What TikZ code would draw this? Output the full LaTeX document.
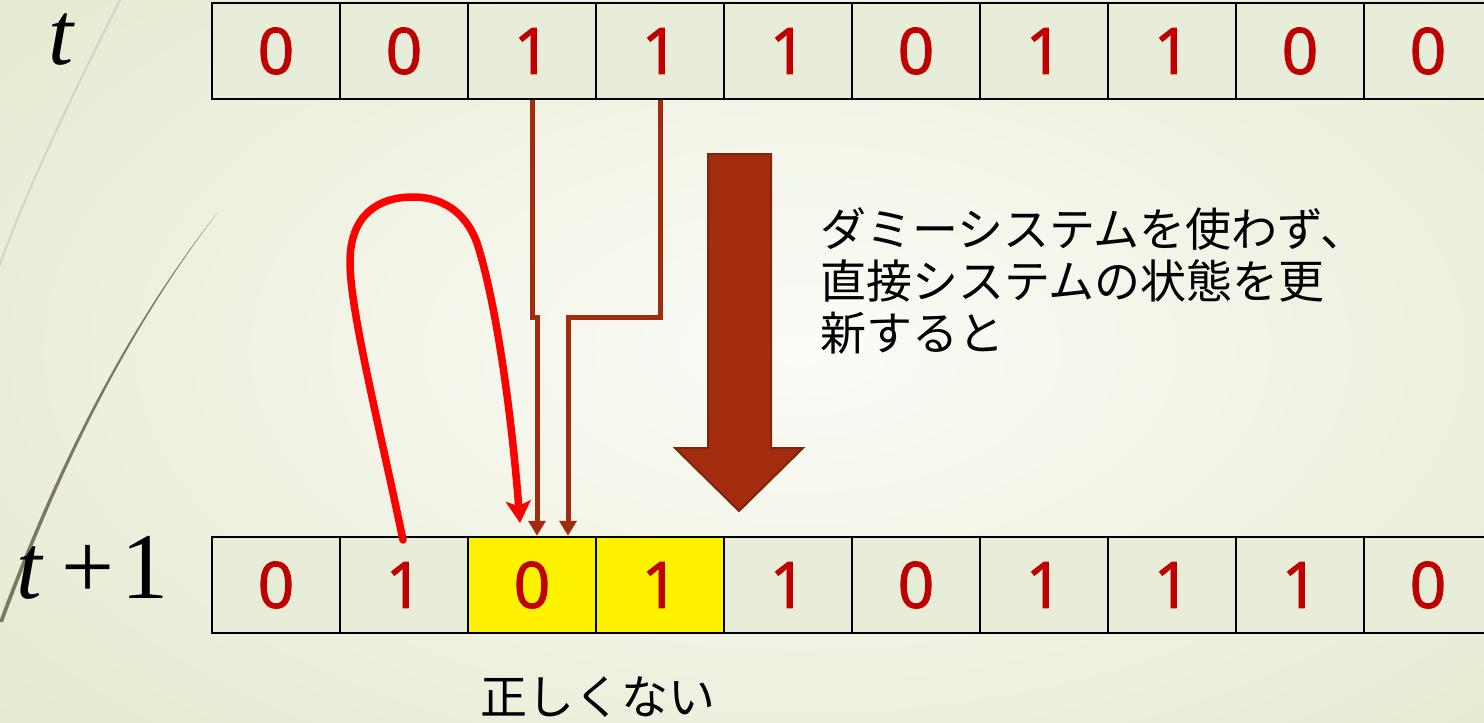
\documentclass[tikz,border=0pt]{standalone}
\usepackage{fontspec}
\setmainfont{Noto Sans}
\newfontfamily\digitfont[FakeBold=1.3]{Noto Sans}
\newfontfamily\jpfont{Noto Sans CJK JP}
\newfontfamily\tmsfont{Liberation Serif}
\usetikzlibrary{arrows.meta}
\definecolor{bgin}{HTML}{FBFCF7}
\definecolor{bgout}{HTML}{E3E9CE}
\definecolor{cellfill}{HTML}{E8EDDA}
\definecolor{digitred}{HTML}{C00000}
\definecolor{brownc}{RGB}{164,44,14}
\definecolor{browndark}{RGB}{128,36,14}
\definecolor{lightarc}{HTML}{D2D5C3}
\definecolor{darkarc}{HTML}{7D7864}
\begin{document}
\begin{tikzpicture}[x=1pt,y=-1pt,
  cell/.style={draw=black, line width=2.5pt, fill=cellfill, minimum width=128pt,
    minimum height=96pt, inner sep=0pt, text=digitred,
    font=\digitfont\fontsize{64}{70}\selectfont},
  conn/.style={draw=brownc, line width=5pt, -{Triangle[length=15pt,width=17pt]}},
  redc/.style={draw=red, line width=7.5pt, line cap=round, -{Stealth[length=22pt,width=25pt,inset=5pt]}},
  lbl/.style={inner sep=0pt, anchor=base, font=\tmsfont\fontsize{94}{100}\selectfont}
]
\useasboundingbox (0,0) rectangle (1484,723);
\clip (0,0) rectangle (1484,723);
\shade[inner color=bgin, outer color=bgout] (-300,-250) rectangle (1900,950);
% decorative arcs
\draw[lightarc, line width=2pt] (121,-2) .. controls (80,80) and (30,180) .. (-3,272);
\fill[darkarc] (218,212) .. controls (125,330) and (55,470) .. (-1,622) -- (3,622) .. controls (59,470) and (127,331) .. (218,212) -- cycle;
% labels
\node[lbl, font=\tmsfont\itshape\fontsize{90}{100}\selectfont] (lt) at (61,64) {t};
\node[lbl, font=\tmsfont\itshape\fontsize{92}{100}\selectfont] (lt2) at (29,598) {t};
\node[lbl] (lplus) at (88,598) {+};
\node[lbl] (lone) at (145,598) {1};
% top row
\foreach \i/\v in {1/0,2/0,3/1,4/1,5/1,6/0,7/1,8/1,9/0,10/0}{
  \node[cell] (t\i) at ({276+128*(\i-1)},51) {\raisebox{-2pt}{\v}};
}
% bottom row
\foreach \i/\v in {1/0,2/1,3/0,4/1,5/1,6/0,7/1,8/1,9/1,10/0}{
  \node[cell] (b\i) at ({276+128*(\i-1)},585) {\raisebox{-2pt}{\v}};
}
\node[cell, fill=yellow] (b3) at (532,585) {\raisebox{-2pt}{0}};
\node[cell, fill=yellow] (b4) at (660,585) {\raisebox{-2pt}{1}};
% brown connectors
\coordinate (j1) at (537,317);
\coordinate (j2) at (568,317);
\draw[conn] (t3.south) |- (j1) -- (j1 |- b3.north);
\draw[conn] (t4.south) |- (j2) -- (j2 |- b3.north);
% red curve
\coordinate (rs) at (403,540);
\coordinate (re) at (520,523);
\draw[redc] (rs) .. controls (378,420) and (350,310) .. (350,262)
  .. controls (350,215) and (378,197) .. (413,197)
  .. controls (448,197) and (468,218) .. (477,243)
  .. controls (497,305) and (512,420) .. (re);
% big arrow
\draw[fill=brownc, draw=browndark, line width=2pt, line join=miter]
  (708,154) -- (771,154) -- (771,448) -- (803,448) -- (739,511) -- (675,448) -- (708,448) -- cycle;
% texts
\node[inner sep=0pt, anchor=base west, align=left, font=\jpfont\fontsize{46}{52}\selectfont] (txt) at (820,350)
  {ダミーシステムを使わず、\\直接システムの状態を更\\新すると};
\node[inner sep=0pt, anchor=base, font=\jpfont\fontsize{47}{52}\selectfont] (wrong) at (598,714) {正しくない};
\end{tikzpicture}
\end{document}
